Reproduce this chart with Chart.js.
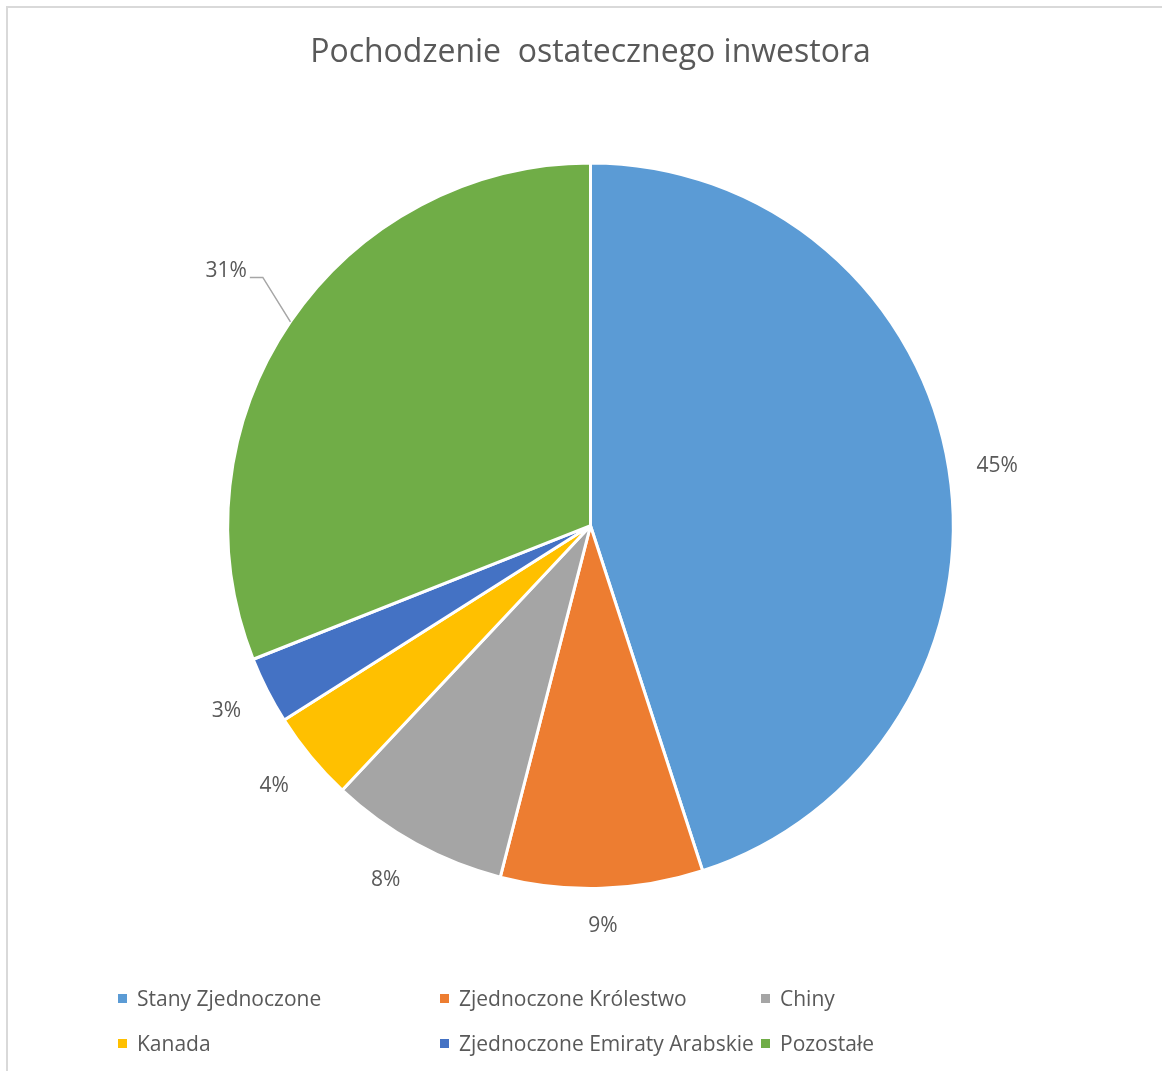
<!DOCTYPE html>
<html>
<head>
<meta charset="utf-8">
<script src="https://cdn.jsdelivr.net/npm/chart.js@4.4.1/dist/chart.umd.min.js"></script>
<style>
  html, body { margin: 0; padding: 0; background: #fff; }
  #wrap { position: relative; width: 1162px; height: 1071px; overflow: hidden; }
  #frame { position: absolute; left: 6px; top: 6px; width: 1200px; height: 1200px;
           border-left: 2px solid #d9d9d9; border-top: 2px solid #d9d9d9; }
  #chartBox { position: absolute; left: 0; top: 0; width: 1162px; height: 1071px; }
  .leg { position: absolute; font-family: "Open Sans", sans-serif; font-size: 21px; color: #595959;
         white-space: nowrap; line-height: 26px; }
  .leg span.m { display: inline-block; width: 9px; height: 9px; margin-right: 10px; vertical-align: 3px; }
</style>
</head>
<body>
<div id="wrap">
  <div id="frame"></div>
  <div id="chartBox"><canvas id="c" width="1162" height="1071"></canvas></div>
  <div id="legend"></div>
</div>
<script>
const titleText = "Pochodzenie  ostatecznego inwestora";
const categories = ["Stany Zjednoczone", "Zjednoczone Królestwo", "Chiny", "Kanada", "Zjednoczone Emiraty Arabskie", "Pozostałe"];
const shares = [45, 9, 8, 4, 3, 31];
const colors = ["#5B9BD5", "#ED7D31", "#A5A5A5", "#FFC000", "#4472C4", "#70AD47"];

// label displacement (style only): moved label with leader line
const labelShift = [[1,5],[0,1],[-10,0],[-3,1],[-2,1],[-24,-23]];
const leaderFor = [false,false,false,false,false,true];

const textColor = "#595959";
const fontFam = "'Open Sans', sans-serif";

const labelPlugin = {
  id: 'outLabels',
  afterDatasetsDraw(chart) {
    const ctx = chart.ctx;
    const meta = chart.getDatasetMeta(0);
    const total = shares.reduce((a,b)=>a+b,0);
    ctx.save();
    ctx.font = "21px " + fontFam;
    ctx.fillStyle = textColor;
    ctx.textAlign = "center";
    ctx.textBaseline = "middle";
    meta.data.forEach((arc, i) => {
      const p = arc.getProps(['x','y','startAngle','endAngle','outerRadius'], true);
      const mid = (p.startAngle + p.endAngle) / 2;
      const txt = Math.round(shares[i] / total * 100) + "%";
      const w = ctx.measureText(txt).width;
      const h = 20;
      const c = Math.cos(mid), s = Math.sin(mid);
      const off = p.outerRadius + 26 + (w/2)*Math.abs(c) + (h/2)*Math.abs(s);
      const lx = p.x + off*c + labelShift[i][0];
      const ly = p.y + off*s + labelShift[i][1];
      ctx.fillText(txt, lx, ly);
      if (leaderFor[i]) {
        const ax = p.x + p.outerRadius*c, ay = p.y + p.outerRadius*s;
        const sx = lx + w/2 + 3, sy = ly + 6;
        ctx.beginPath();
        ctx.strokeStyle = "#a6a6a6";
        ctx.lineWidth = 1.5;
        ctx.moveTo(sx, sy);
        ctx.lineTo(sx + 13, sy);
        ctx.lineTo(ax, ay);
        ctx.stroke();
      }
    });
    ctx.restore();
  }
};

new Chart(document.getElementById('c'), {
  type: 'pie',
  data: {
    labels: categories,
    datasets: [{
      data: shares,
      backgroundColor: colors,
      borderColor: "#ffffff",
      borderWidth: 3
    }]
  },
  options: {
    responsive: false,
    animation: false,
    layout: { padding: { left: 226, right: 207, bottom: 181, top: 0 } },
    plugins: {
      legend: { display: false },
      tooltip: { enabled: false },
      title: {
        display: true,
        text: titleText,
        color: textColor,
        font: { family: fontFam, size: 32, weight: 'normal' },
        padding: { top: 34, bottom: 89 }
      }
    }
  },
  plugins: [labelPlugin]
});

// HTML legend built from the arrays
const legPos = [[118, 985],[440, 985],[761, 985],[118, 1030],[440, 1030],[761, 1030]];
const legend = document.getElementById('legend');
categories.forEach((name, i) => {
  const d = document.createElement('div');
  d.className = 'leg';
  d.style.left = legPos[i][0] + 'px';
  d.style.top = legPos[i][1] + 'px';
  const m = document.createElement('span');
  m.className = 'm';
  m.style.background = colors[i];
  d.appendChild(m);
  d.appendChild(document.createTextNode(name));
  legend.appendChild(d);
});
</script>
</body>
</html>
